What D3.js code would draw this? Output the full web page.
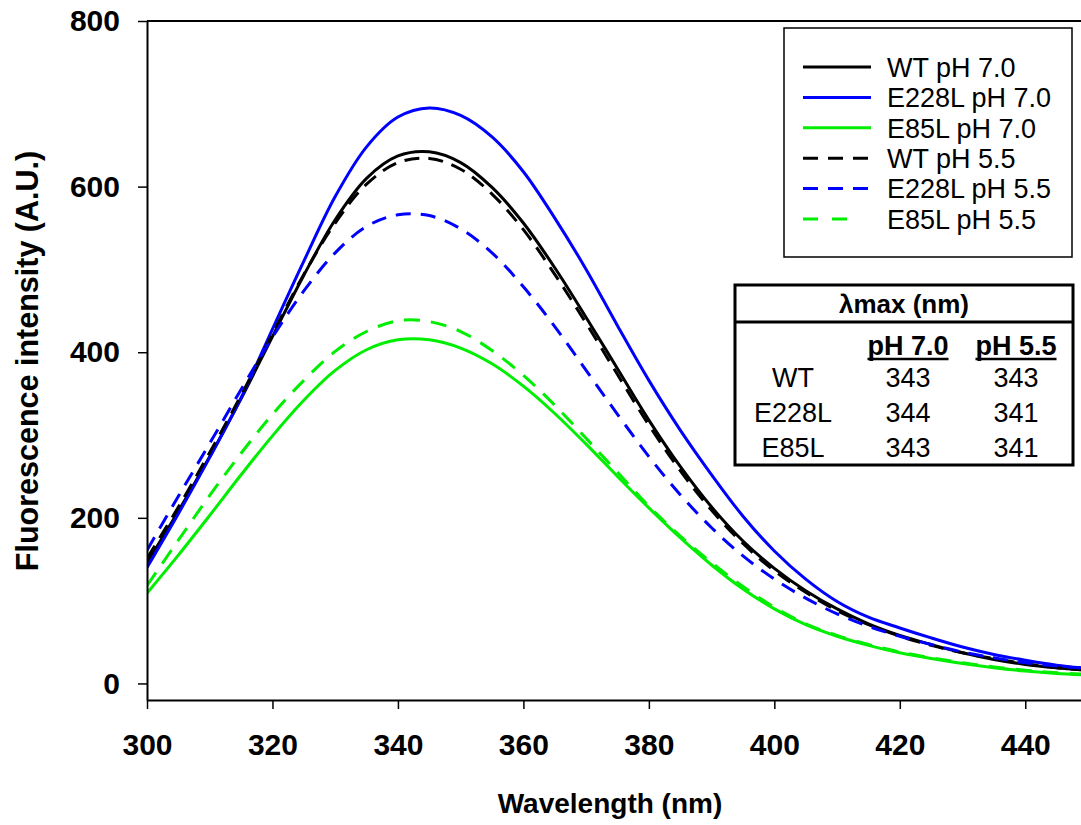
<!DOCTYPE html>
<html>
<head>
<meta charset="utf-8">
<script src="https://cdn.jsdelivr.net/npm/d3@7"></script>
<style>
  body { margin: 0; background: #fff; }
  svg { display: block; font-family: Arial, "Liberation Sans", sans-serif; }
</style>
</head>
<body>
<div id="chart"></div>
<script>
// wavelengths (nm), every 5 nm
const wavelengths = [300, 305, 310, 315, 320, 325, 330, 335, 340, 345, 350, 355, 360, 365, 370, 375,
  380, 385, 390, 395, 400, 405, 410, 415, 420, 425, 430, 435, 440, 445, 450];

// fluorescence intensity (A.U.)
const wt70    = [146, 208, 274, 344, 419, 493, 560, 610, 637, 642, 629, 599, 556, 502, 442, 380,
  318, 262, 213, 172, 139, 112, 90, 72, 58, 47, 37, 29, 23, 19, 16];
const e228l70 = [140, 205, 273, 345, 428, 510, 588, 648, 684, 695, 686, 660, 618, 562, 500, 432,
  366, 306, 252, 202, 160, 126, 99, 80, 67, 55, 44, 35, 28, 22, 18];
const e85l70  = [109, 155, 203, 252, 299, 342, 378, 403, 415, 415, 405, 386, 359, 326, 289, 250,
  212, 176, 143, 114, 90, 71, 57, 46, 37, 30, 24, 19, 15, 12, 10];
const wt55    = [151, 213, 279, 348, 422, 494, 556, 603, 629, 634, 621, 591, 548, 494, 435, 373,
  312, 257, 209, 169, 136, 110, 88, 71, 57, 46, 37, 30, 24, 19, 16];
const e228l55 = [161, 226, 290, 355, 418, 474, 520, 552, 566, 565, 549, 520, 479, 431, 378, 325,
  274, 228, 188, 154, 126, 103, 84, 69, 57, 47, 38, 31, 25, 21, 18];
const e85l55  = [118, 173, 227, 278, 325, 366, 401, 425, 438, 437, 425, 402, 372, 336, 296, 255,
  214, 178, 146, 117, 92, 72, 58, 47, 38, 31, 25, 20, 16, 13, 11];

const seriesNames = ['WT pH 7.0', 'E228L pH 7.0', 'E85L pH 7.0', 'WT pH 5.5', 'E228L pH 5.5', 'E85L pH 5.5'];
const seriesValues = [wt70, e228l70, e85l70, wt55, e228l55, e85l55];

const xTicks = [300, 320, 340, 360, 380, 400, 420, 440];
const yTicks = [0, 200, 400, 600, 800];

// lambda max table
const tableTitle = 'λmax (nm)';
const tableCols = ['pH 7.0', 'pH 5.5'];
const tableRows = ['WT', 'E228L', 'E85L'];
const lmax70 = [343, 344, 343];
const lmax55 = [343, 341, 341];

const W = 1081, H = 825;
const margin = {top: 21, left: 147, bottom: 125};
const plotRight = 1088;

const x = d3.scaleLinear().domain([300, 450]).range([margin.left, plotRight]);
const y = d3.scaleLinear().domain([-20, 800]).range([H - margin.bottom, margin.top]);

const colors = ['#000000', '#0000ff', '#00ee00', '#000000', '#0000ff', '#00ee00'];
const dashes = [null, null, null, '15,9', '15,10', '16,11'];

const svg = d3.select('#chart').append('svg')
  .attr('width', W)
  .attr('height', H);

svg.append('defs').append('clipPath').attr('id', 'plot-clip')
  .append('rect')
  .attr('x', x(300)).attr('y', y(800))
  .attr('width', x(450) - x(300)).attr('height', y(-20) - y(800));

// frame top and right
svg.append('path')
  .attr('d', `M${x(300)},${y(800)}H${x(450)}V${y(-20)}`)
  .attr('fill', 'none')
  .attr('stroke', '#000')
  .attr('stroke-width', 2);

const line = d3.line()
  .x((d, i) => x(wavelengths[i]))
  .y(d => y(d))
  .curve(d3.curveCatmullRom.alpha(0.5));

svg.append('g')
  .attr('clip-path', 'url(#plot-clip)')
  .selectAll('path')
  .data(seriesValues)
  .enter().append('path')
  .attr('d', d => line(d))
  .attr('fill', 'none')
  .attr('stroke', (d, i) => colors[i])
  .attr('stroke-width', 3)
  .attr('stroke-dasharray', (d, i) => dashes[i]);

// axes
const xAxis = svg.append('g')
  .attr('transform', `translate(0, ${y(-20)})`)
  .call(d3.axisBottom(x).tickValues(xTicks).tickSize(9).tickSizeOuter(0).tickPadding(25));
const yAxis = svg.append('g')
  .attr('transform', `translate(${x(300)}, 0)`)
  .call(d3.axisLeft(y).tickValues(yTicks).tickSize(9).tickSizeOuter(0).tickPadding(18));

[xAxis, yAxis].forEach(a => {
  a.select('.domain').attr('stroke-width', 2);
  a.selectAll('.tick line').attr('stroke-width', 1.5);
  a.selectAll('.tick text')
    .style('font-size', '30px')
    .style('font-weight', 'bold')
    .style('font-family', 'Arial, "Liberation Sans", sans-serif')
    .attr('fill', '#000');
});

svg.append('text')
  .attr('x', 610)
  .attr('y', 813)
  .attr('text-anchor', 'middle')
  .style('font-size', '28px')
  .style('font-weight', 'bold')
  .text('Wavelength (nm)');

svg.append('text')
  .attr('transform', 'translate(38, 361) rotate(-90)')
  .attr('text-anchor', 'middle')
  .style('font-size', '30.5px')
  .style('font-weight', 'bold')
  .text('Fluorescence intensity (A.U.)');

// legend
const legend = svg.append('g');
legend.append('rect')
  .attr('x', 784).attr('y', 28)
  .attr('width', 288).attr('height', 229)
  .attr('fill', '#fff')
  .attr('stroke', '#000')
  .attr('stroke-width', 1.5);

const rows = legend.selectAll('g.row')
  .data(seriesNames)
  .enter().append('g')
  .attr('class', 'row')
  .attr('transform', (d, i) => `translate(803, ${67 + i * 30.4})`);
rows.append('line')
  .attr('x1', 0)
  .attr('x2', (d, i) => i === 5 ? 45 : 68)
  .attr('stroke', (d, i) => colors[i])
  .attr('stroke-width', 3)
  .attr('stroke-dasharray', (d, i) => i === 5 ? '15,14' : (dashes[i] ? '15,10' : null));
rows.append('text')
  .attr('x', 84)
  .attr('dy', '0.36em')
  .style('font-size', '27px')
  .text(d => d);

// lambda max table
const tbl = svg.append('g');
tbl.append('rect')
  .attr('x', 735).attr('y', 285)
  .attr('width', 338).attr('height', 180)
  .attr('fill', '#fff')
  .attr('stroke', '#000')
  .attr('stroke-width', 3);
tbl.append('line')
  .attr('x1', 735).attr('x2', 1073)
  .attr('y1', 322).attr('y2', 322)
  .attr('stroke', '#000')
  .attr('stroke-width', 3);
tbl.append('text')
  .attr('x', 904).attr('y', 313)
  .attr('text-anchor', 'middle')
  .style('font-size', '26px')
  .style('font-weight', 'bold')
  .text(tableTitle);

const colX = [908, 1016];
tableCols.forEach((c, j) => {
  const t = tbl.append('text')
    .attr('x', colX[j]).attr('y', 355)
    .attr('text-anchor', 'middle')
    .style('font-size', '27px')
    .style('font-weight', 'bold')
    .text(c);
  const w = t.node().getComputedTextLength();
  tbl.append('line')
    .attr('x1', colX[j] - w / 2).attr('x2', colX[j] + w / 2)
    .attr('y1', 359).attr('y2', 359)
    .attr('stroke', '#000')
    .attr('stroke-width', 2.5);
});

tableRows.forEach((r, i) => {
  const yy = 387 + i * 35;
  tbl.append('text').attr('x', 793).attr('y', yy)
    .attr('text-anchor', 'middle').style('font-size', '27px').text(r);
  tbl.append('text').attr('x', colX[0]).attr('y', yy)
    .attr('text-anchor', 'middle').style('font-size', '27px').text(lmax70[i]);
  tbl.append('text').attr('x', colX[1]).attr('y', yy)
    .attr('text-anchor', 'middle').style('font-size', '27px').text(lmax55[i]);
});
</script>
</body>
</html>
